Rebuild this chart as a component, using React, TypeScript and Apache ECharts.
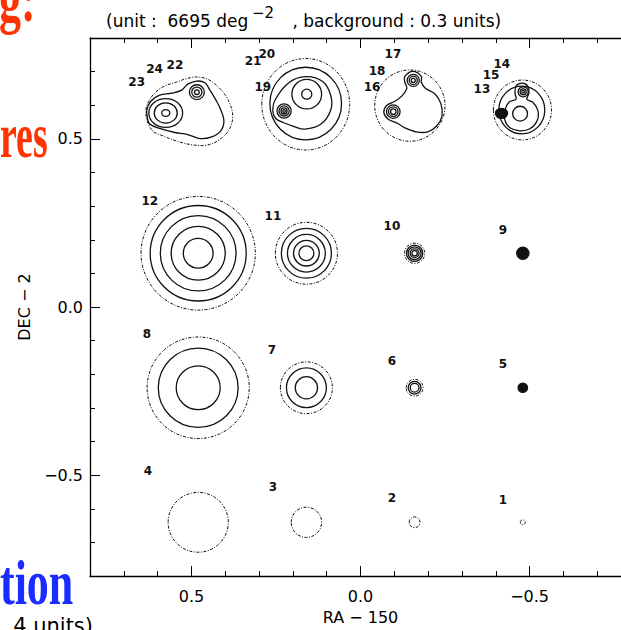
import React, { useEffect, useRef } from "react";
import * as echarts from "echarts";

// Axis extent (RA - 150 and DEC - 2, degrees)
const AXIS_MIN = -0.8;
const AXIS_MAX = 0.8;
const MINOR_STEP = 0.1;
const MAJOR_VALUES = [-0.5, 0, 0.5];

// Contour rings: [ra, dec, radiusRA, radiusDEC, style] (style 1 = dashed 0.3 level, 2 = saturated core)
const faintRowRings = [
  [-0.48, -0.64, 0.0074, 0.0074, 1],
  [-0.16, -0.64, 0.016, 0.016, 1],
  [0.16, -0.64, 0.045, 0.045, 1],
  [0.48, -0.64, 0.089, 0.089, 1],
];

const middleRowRings = [
  [-0.48, -0.24, 0.014, 0.014, 2],
  [-0.16, -0.24, 0.025, 0.025, 1],
  [-0.16, -0.24, 0.019, 0.019, 0],
  [-0.16, -0.24, 0.013, 0.013, 0],
  [0.16, -0.24, 0.077, 0.077, 1],
  [0.16, -0.24, 0.059, 0.059, 0],
  [0.16, -0.24, 0.033, 0.033, 0],
  [0.48, -0.24, 0.151, 0.151, 1],
  [0.48, -0.24, 0.118, 0.118, 0],
  [0.48, -0.24, 0.065, 0.065, 0],
];

const brightRowRings = [
  [-0.48, 0.16, 0.018, 0.018, 2],
  [-0.16, 0.16, 0.03, 0.03, 1],
  [-0.16, 0.16, 0.024, 0.024, 0],
  [-0.16, 0.16, 0.019, 0.019, 0],
  [-0.16, 0.16, 0.013, 0.013, 0],
  [-0.16, 0.16, 0.008, 0.008, 0],
  [0.16, 0.16, 0.092, 0.092, 1],
  [0.16, 0.16, 0.074, 0.074, 0],
  [0.16, 0.16, 0.056, 0.056, 0],
  [0.16, 0.16, 0.038, 0.038, 0],
  [0.16, 0.16, 0.022, 0.022, 0],
  [0.48, 0.16, 0.169, 0.169, 1],
  [0.48, 0.16, 0.142, 0.142, 0],
  [0.48, 0.16, 0.112, 0.112, 0],
  [0.48, 0.16, 0.08, 0.08, 0],
  [0.48, 0.16, 0.044, 0.044, 0],
];

const blendedRowRings = [
  // group 22-24
  [0.484, 0.639, 0.022, 0.022, 0],
  [0.484, 0.639, 0.015, 0.015, 0],
  [0.484, 0.639, 0.007, 0.007, 0],
  [0.576, 0.577, 0.05, 0.043, 0],
  [0.576, 0.577, 0.034, 0.03, 0],
  [0.576, 0.577, 0.012, 0.01, 0],
  // group 19-21
  [0.162, 0.603, 0.13, 0.136, 1],
  [0.162, 0.605, 0.106, 0.108, 0],
  [0.159, 0.633, 0.044, 0.044, 0],
  [0.159, 0.633, 0.015, 0.015, 0],
  [0.226, 0.583, 0.021, 0.021, 0],
  [0.226, 0.583, 0.015, 0.015, 0],
  [0.226, 0.583, 0.009, 0.009, 0],
  [0.226, 0.583, 0.004, 0.004, 0],
  // group 16-18
  [-0.146, 0.599, 0.104, 0.106, 1],
  [-0.156, 0.674, 0.018, 0.018, 0],
  [-0.156, 0.674, 0.012, 0.012, 0],
  [-0.156, 0.674, 0.006, 0.006, 0],
  [-0.097, 0.581, 0.02, 0.02, 0],
  [-0.097, 0.581, 0.014, 0.014, 0],
  [-0.097, 0.581, 0.008, 0.008, 0],
  // group 13-15
  [-0.479, 0.586, 0.086, 0.089, 1],
  [-0.477, 0.586, 0.068, 0.071, 0],
  [-0.472, 0.575, 0.022, 0.022, 0],
  [-0.481, 0.64, 0.015, 0.015, 0],
  [-0.481, 0.64, 0.009, 0.009, 0],
  [-0.481, 0.64, 0.004, 0.004, 0],
  [-0.417, 0.576, 0.018, 0.015, 2],
];

// Merged contours of blended sources, as [ra, dec] outline points
const group24Outer = [
  [0.618, 0.527], [0.635, 0.581], [0.618, 0.625], [0.584, 0.655], [0.544, 0.669],
  [0.515, 0.679], [0.485, 0.684], [0.451, 0.677], [0.416, 0.65], [0.391, 0.615],
  [0.378, 0.571], [0.386, 0.532], [0.411, 0.502], [0.451, 0.482], [0.495, 0.482],
  [0.539, 0.492], [0.579, 0.507],
];
const group24Envelope = [
  [0.629, 0.556], [0.632, 0.586], [0.62, 0.612], [0.594, 0.63], [0.558, 0.636],
  [0.529, 0.645], [0.511, 0.663], [0.484, 0.672], [0.46, 0.667], [0.446, 0.646],
  [0.428, 0.616], [0.413, 0.586], [0.404, 0.553], [0.413, 0.524], [0.44, 0.506],
  [0.475, 0.501], [0.511, 0.513], [0.549, 0.519], [0.594, 0.531], [0.623, 0.544],
];
const group21Inner = [
  [0.259, 0.58], [0.253, 0.615], [0.212, 0.667], [0.162, 0.685], [0.111, 0.67],
  [0.088, 0.629], [0.088, 0.586], [0.117, 0.544], [0.164, 0.529], [0.2, 0.538],
  [0.227, 0.548], [0.25, 0.56],
];
const group18Loop = [
  [-0.137, 0.651], [-0.122, 0.627], [-0.102, 0.612], [-0.078, 0.6], [-0.069, 0.579],
  [-0.081, 0.559], [-0.108, 0.547], [-0.131, 0.533], [-0.164, 0.521], [-0.199, 0.521],
  [-0.226, 0.539], [-0.241, 0.568], [-0.238, 0.604], [-0.221, 0.633], [-0.191, 0.651],
  [-0.18, 0.669], [-0.18, 0.686], [-0.155, 0.701], [-0.131, 0.686], [-0.131, 0.669],
];
const group15Inner = [
  [-0.46, 0.618], [-0.439, 0.609], [-0.427, 0.585], [-0.427, 0.556], [-0.442, 0.533],
  [-0.471, 0.524], [-0.501, 0.53], [-0.522, 0.553], [-0.525, 0.583], [-0.51, 0.609],
  [-0.492, 0.618], [-0.498, 0.636], [-0.495, 0.657], [-0.477, 0.666], [-0.46, 0.657],
  [-0.457, 0.636],
];
const blendOutlines = [group24Outer, group24Envelope, group21Inner, group18Loop, group15Inner];
const blendOutlineDashed = [1, 0, 0, 0, 0];

// Source numbers and where they are written
const labelText = [
  "1", "2", "3", "4", "5", "6", "7", "8", "9", "10", "11", "12",
  "13", "14", "15", "16", "17", "18", "19", "20", "21", "22", "23", "24",
];
const labelRA = [
  -0.421, -0.093, 0.259, 0.629, -0.421, -0.093, 0.262, 0.632, -0.421, -0.093, 0.259, 0.623,
  -0.359, -0.418, -0.386, -0.034, -0.096, -0.049, 0.289, 0.277, 0.318, 0.549, 0.662, 0.609,
];
const labelDEC = [
  -0.575, -0.569, -0.534, -0.487, -0.17, -0.161, -0.129, -0.079, 0.228, 0.24, 0.27, 0.314,
  0.648, 0.722, 0.689, 0.654, 0.751, 0.701, 0.654, 0.751, 0.733, 0.719, 0.668, 0.709,
];

const AXIS_FONT = '"DejaVu Sans", "Liberation Sans", sans-serif';
const SLIDE_FONT = '"Liberation Serif", "DejaVu Serif", serif';

const formatTick = (v: number) => (v < -1e-9 ? "\u2212" : "") + Math.abs(v).toFixed(1);

const ringStyle = (kind: number) => ({
  fill: kind === 2 ? "#111" : "none",
  stroke: "#111",
  lineWidth: kind === 1 ? 1 : 1.3,
  lineDash: kind === 1 ? [3, 1.5, 1, 1.5] : null,
});

function renderRing(_params: any, api: any) {
  const x = api.value(0);
  const y = api.value(1);
  const c = api.coord([x, y]);
  const ex = api.coord([x + api.value(2), y]);
  const ey = api.coord([x, y + api.value(3)]);
  return {
    type: "ellipse",
    shape: { cx: c[0], cy: c[1], rx: Math.abs(ex[0] - c[0]), ry: Math.abs(ey[1] - c[1]) },
    style: ringStyle(api.value(4)),
  };
}

function renderOutline(params: any, api: any) {
  const pts = blendOutlines[params.dataIndex].map((p) => api.coord(p));
  return {
    type: "polygon",
    shape: { points: pts, smooth: 0.35 },
    style: ringStyle(blendOutlineDashed[params.dataIndex]),
  };
}

function renderLabel(params: any, api: any) {
  const c = api.coord([api.value(0), api.value(1)]);
  return {
    type: "text",
    x: c[0],
    y: c[1],
    style: {
      text: labelText[params.dataIndex],
      font: `bold 12px ${AXIS_FONT}`,
      fill: "#111",
      align: "center",
      verticalAlign: "middle",
    },
  };
}

function buildAxes(kind: "x" | "y") {
  const sides = kind === "x" ? ["bottom", "top"] : ["left", "right"];
  const axes: any[] = [];
  sides.forEach((side, i) => {
    axes.push({
      type: "value",
      min: AXIS_MIN,
      max: AXIS_MAX,
      interval: MINOR_STEP,
      position: side,
      inverse: kind === "x",
      axisLine: { show: true, onZero: false, lineStyle: { color: "#000", width: 1.3 } },
      axisTick: { show: true, inside: true, length: 5, lineStyle: { color: "#000", width: 1 } },
      axisLabel: { show: false },
      splitLine: { show: false },
    });
    const major: any = {
      type: "value",
      min: AXIS_MIN,
      max: AXIS_MAX,
      position: side,
      inverse: kind === "x",
      axisLine: { show: false, onZero: false },
      axisTick: {
        show: true,
        inside: true,
        length: 10,
        customValues: MAJOR_VALUES,
        lineStyle: { color: "#000", width: 1 },
      },
      axisLabel: { show: false },
      splitLine: { show: false },
    };
    if (i === 0) {
      major.axisLabel = {
        show: true,
        customValues: MAJOR_VALUES,
        formatter: formatTick,
        fontFamily: AXIS_FONT,
        fontSize: 16,
        color: "#000",
        margin: kind === "x" ? 12 : 7,
      };
      major.name = kind === "x" ? "RA \u2212 150" : "DEC \u2212 2";
      major.nameLocation = "middle";
      major.nameGap = kind === "x" ? 32 : 58;
      major.nameTextStyle = { fontFamily: AXIS_FONT, fontSize: 16, color: "#000" };
    }
    axes.push(major);
  });
  return axes;
}

export default function App() {
  const ref = useRef<HTMLDivElement>(null);

  useEffect(() => {
    if (!ref.current) return;
    const chart = echarts.init(ref.current, null, { renderer: "svg" });
    const titleFont = `17px ${AXIS_FONT}`;
    chart.setOption({
      animation: false,
      backgroundColor: "#fff",
      grid: { left: 90, top: 38, width: 541, height: 541, containLabel: false },
      xAxis: buildAxes("x"),
      yAxis: buildAxes("y"),
      graphic: [
        {
          type: "text",
          x: 106,
          y: 21,
          style: { text: "(unit :  6695 deg", font: titleFont, fill: "#000", verticalAlign: "middle" },
        },
        {
          type: "text",
          x: 252,
          y: 13,
          style: { text: "\u22122", font: `15px ${AXIS_FONT}`, fill: "#000", verticalAlign: "middle" },
        },
        {
          type: "text",
          x: 287,
          y: 21,
          style: { text: " , background : 0.3 units)", font: titleFont, fill: "#000", verticalAlign: "middle" },
        },
        {
          type: "text",
          x: -1,
          y: 0,
          scaleY: 1.43,
          style: { text: "g:", font: `bold 44px ${SLIDE_FONT}`, fill: "#ff3300", verticalAlign: "middle" },
        },
        {
          type: "text",
          x: 0,
          y: 136,
          scaleX: 0.86,
          scaleY: 1.43,
          style: { text: "res", font: `bold 44px ${SLIDE_FONT}`, fill: "#ff3300", verticalAlign: "middle" },
        },
        {
          type: "text",
          x: 0,
          y: 583,
          scaleY: 1.43,
          style: { text: "tion", font: `bold 44px ${SLIDE_FONT}`, fill: "#1a2cff", verticalAlign: "middle" },
        },
        {
          type: "text",
          x: 93,
          y: 626,
          style: { text: "4 units)", font: `21px ${AXIS_FONT}`, fill: "#000", align: "right", verticalAlign: "middle" },
        },
      ],
      series: [
        ...[faintRowRings, middleRowRings, brightRowRings, blendedRowRings].map((rings) => ({
          type: "custom",
          xAxisIndex: 0,
          yAxisIndex: 0,
          clip: false,
          silent: true,
          renderItem: renderRing,
          encode: { x: 0, y: 1 },
          data: rings,
        })),
        {
          type: "custom",
          xAxisIndex: 0,
          yAxisIndex: 0,
          clip: false,
          silent: true,
          renderItem: renderOutline,
          encode: { x: 0, y: 1 },
          data: blendOutlines.map((o) => o[0]),
        },
        {
          type: "custom",
          xAxisIndex: 0,
          yAxisIndex: 0,
          clip: false,
          silent: true,
          renderItem: renderLabel,
          encode: { x: 0, y: 1 },
          data: labelRA.map((ra, i) => [ra, labelDEC[i]]),
        },
      ],
    });
    return () => chart.dispose();
  }, []);

  return (
    <div
      style={{
        position: "fixed",
        left: 0,
        top: 0,
        width: 621,
        height: 630,
        overflow: "hidden",
        background: "#fff",
      }}
    >
      <div ref={ref} style={{ width: 645, height: 630 }} />
    </div>
  );
}
